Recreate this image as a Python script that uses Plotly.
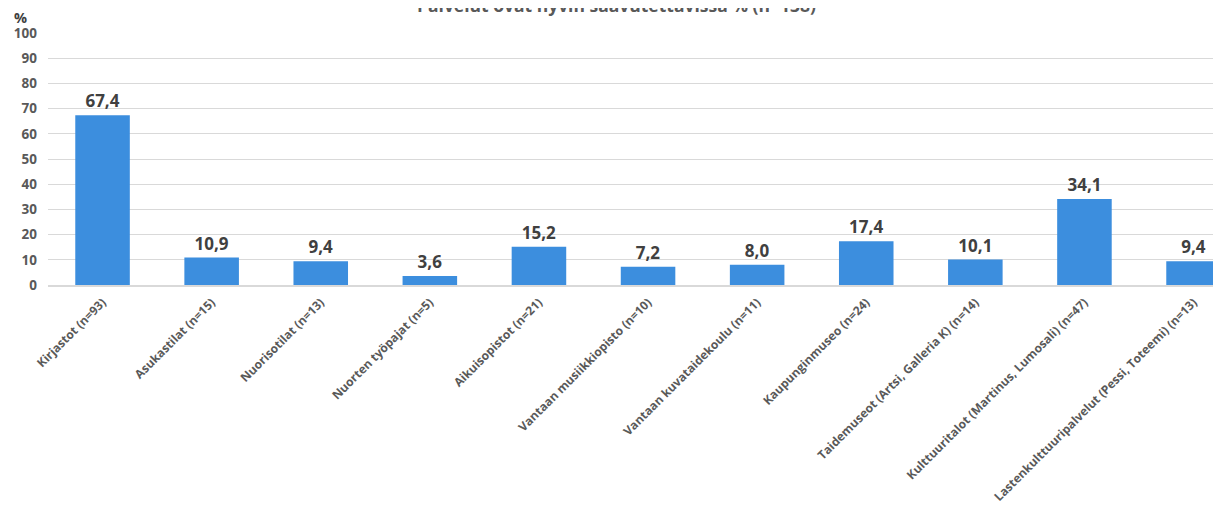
import plotly.graph_objects as go

categories = [
    "Kirjastot (n=93)", "Asukastilat (n=15)", "Nuorisotilat (n=13)", "Nuorten työpajat (n=5)",
    "Aikuisopistot (n=21)", "Vantaan musiikkiopisto (n=10)", "Vantaan kuvataidekoulu (n=11)",
    "Kaupunginmuseo (n=24)", "Taidemuseot (Artsi, Galleria K) (n=14)",
    "Kulttuuritalot (Martinus, Lumosali) (n=47)", "Lastenkulttuuripalvelut (Pessi, Toteemi) (n=13)",
]
values = [67.4, 10.9, 9.4, 3.6, 15.2, 7.2, 8.0, 17.4, 10.1, 34.1, 9.4]
y_ticks = list(range(0, 101, 10))

labels = ["<b>" + f"{v:.1f}".replace(".", ",") + "</b>" for v in values]
font_family = "Open Sans, Noto Sans, sans-serif"

# page has an 8px body margin, so margins are offset to line up with the reference
fig = go.Figure(go.Bar(
    x=list(range(len(categories))), y=values, text=labels, textposition='outside',
    cliponaxis=False, textfont=dict(size=17, color='#404040', family=font_family),
    marker=dict(color='#3c8ede', line=dict(width=0)), hoverinfo='y'
))

fig.update_layout(
    width=1221, height=506, margin=dict(l=40, r=0, t=25, b=229),
    paper_bgcolor='white', plot_bgcolor='white', bargap=0.5, showlegend=False,
    xaxis=dict(tickmode='array', tickvals=list(range(len(categories))),
               ticktext=["<b>" + c + "</b>" for c in categories],
               tickangle=-45, range=[-0.5, 10.325], showgrid=False, showline=True,
               linecolor='#d9d9d9', linewidth=1.5, ticks='', ticklabelstandoff=4,
               tickfont=dict(size=12, color='#595959', family=font_family)),
    yaxis=dict(range=[0, 100], tickvals=y_ticks, ticktext=[f"<b>{t}</b>" for t in y_ticks],
               showgrid=True, gridcolor='#d9d9d9', zeroline=False, ticks='', ticklabelstandoff=10,
               tickfont=dict(size=13.5, color='#595959', family=font_family)),
    annotations=[
        dict(text="<b>Palvelut ovat hyvin saavutettavissa % (n=138)</b>", xref='paper', yref='paper',
             x=0.481, y=1, yshift=28, showarrow=False, xanchor='center', yanchor='middle',
             font=dict(size=17.5, color='#595959', family=font_family)),
        dict(text="<b>%</b>", xref='paper', yref='paper', x=0, y=1, xshift=-28, yshift=16,
             showarrow=False, xanchor='center', yanchor='middle',
             font=dict(size=14.5, color='#404040', family=font_family)),
    ]
)

fig.write_html("out.html")
